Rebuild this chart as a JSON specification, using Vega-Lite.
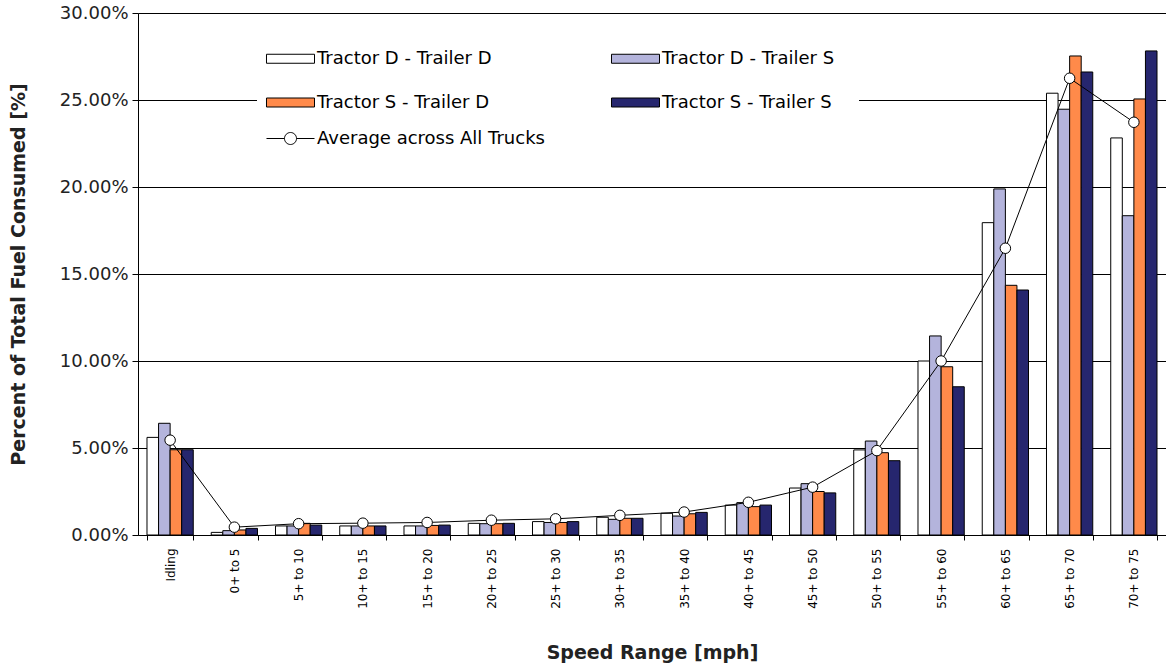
{
  "$schema": "https://vega.github.io/schema/vega-lite/v6.json",
  "width": 1028,
  "height": 522,
  "autosize": {"type": "none"},
  "padding": {"left": 138, "top": 13, "right": 0, "bottom": 132},
  "background": "white",
  "config": {"view": {"stroke": null}, "font": "DejaVu Sans"},
  "datasets": {
    "bars": [
      {"speed": "Idling", "series": "Tractor D - Trailer D", "value": 0.0561},
      {"speed": "Idling", "series": "Tractor D - Trailer S", "value": 0.0642},
      {"speed": "Idling", "series": "Tractor S - Trailer D", "value": 0.0490},
      {"speed": "Idling", "series": "Tractor S - Trailer S", "value": 0.0490},
      {"speed": "0+ to 5", "series": "Tractor D - Trailer D", "value": 0.0015},
      {"speed": "0+ to 5", "series": "Tractor D - Trailer S", "value": 0.0025},
      {"speed": "0+ to 5", "series": "Tractor S - Trailer D", "value": 0.0029},
      {"speed": "0+ to 5", "series": "Tractor S - Trailer S", "value": 0.0038},
      {"speed": "5+ to 10", "series": "Tractor D - Trailer D", "value": 0.0052},
      {"speed": "5+ to 10", "series": "Tractor D - Trailer S", "value": 0.0052},
      {"speed": "5+ to 10", "series": "Tractor S - Trailer D", "value": 0.0067},
      {"speed": "5+ to 10", "series": "Tractor S - Trailer S", "value": 0.0057},
      {"speed": "10+ to 15", "series": "Tractor D - Trailer D", "value": 0.0052},
      {"speed": "10+ to 15", "series": "Tractor D - Trailer S", "value": 0.0052},
      {"speed": "10+ to 15", "series": "Tractor S - Trailer D", "value": 0.0052},
      {"speed": "10+ to 15", "series": "Tractor S - Trailer S", "value": 0.0052},
      {"speed": "15+ to 20", "series": "Tractor D - Trailer D", "value": 0.0052},
      {"speed": "15+ to 20", "series": "Tractor D - Trailer S", "value": 0.0052},
      {"speed": "15+ to 20", "series": "Tractor S - Trailer D", "value": 0.0055},
      {"speed": "15+ to 20", "series": "Tractor S - Trailer S", "value": 0.0057},
      {"speed": "20+ to 25", "series": "Tractor D - Trailer D", "value": 0.0067},
      {"speed": "20+ to 25", "series": "Tractor D - Trailer S", "value": 0.0065},
      {"speed": "20+ to 25", "series": "Tractor S - Trailer D", "value": 0.0065},
      {"speed": "20+ to 25", "series": "Tractor S - Trailer S", "value": 0.0067},
      {"speed": "25+ to 30", "series": "Tractor D - Trailer D", "value": 0.0077},
      {"speed": "25+ to 30", "series": "Tractor D - Trailer S", "value": 0.0072},
      {"speed": "25+ to 30", "series": "Tractor S - Trailer D", "value": 0.0072},
      {"speed": "25+ to 30", "series": "Tractor S - Trailer S", "value": 0.0077},
      {"speed": "30+ to 35", "series": "Tractor D - Trailer D", "value": 0.0102},
      {"speed": "30+ to 35", "series": "Tractor D - Trailer S", "value": 0.0090},
      {"speed": "30+ to 35", "series": "Tractor S - Trailer D", "value": 0.0096},
      {"speed": "30+ to 35", "series": "Tractor S - Trailer S", "value": 0.0096},
      {"speed": "35+ to 40", "series": "Tractor D - Trailer D", "value": 0.0125},
      {"speed": "35+ to 40", "series": "Tractor D - Trailer S", "value": 0.0109},
      {"speed": "35+ to 40", "series": "Tractor S - Trailer D", "value": 0.0122},
      {"speed": "35+ to 40", "series": "Tractor S - Trailer S", "value": 0.0130},
      {"speed": "40+ to 45", "series": "Tractor D - Trailer D", "value": 0.0172},
      {"speed": "40+ to 45", "series": "Tractor D - Trailer S", "value": 0.0186},
      {"speed": "40+ to 45", "series": "Tractor S - Trailer D", "value": 0.0163},
      {"speed": "40+ to 45", "series": "Tractor S - Trailer S", "value": 0.0172},
      {"speed": "45+ to 50", "series": "Tractor D - Trailer D", "value": 0.0270},
      {"speed": "45+ to 50", "series": "Tractor D - Trailer S", "value": 0.0295},
      {"speed": "45+ to 50", "series": "Tractor S - Trailer D", "value": 0.0250},
      {"speed": "45+ to 50", "series": "Tractor S - Trailer S", "value": 0.0242},
      {"speed": "50+ to 55", "series": "Tractor D - Trailer D", "value": 0.0489},
      {"speed": "50+ to 55", "series": "Tractor D - Trailer S", "value": 0.0540},
      {"speed": "50+ to 55", "series": "Tractor S - Trailer D", "value": 0.0473},
      {"speed": "50+ to 55", "series": "Tractor S - Trailer S", "value": 0.0427},
      {"speed": "55+ to 60", "series": "Tractor D - Trailer D", "value": 0.1000},
      {"speed": "55+ to 60", "series": "Tractor D - Trailer S", "value": 0.1144},
      {"speed": "55+ to 60", "series": "Tractor S - Trailer D", "value": 0.0967},
      {"speed": "55+ to 60", "series": "Tractor S - Trailer S", "value": 0.0852},
      {"speed": "60+ to 65", "series": "Tractor D - Trailer D", "value": 0.1795},
      {"speed": "60+ to 65", "series": "Tractor D - Trailer S", "value": 0.1989},
      {"speed": "60+ to 65", "series": "Tractor S - Trailer D", "value": 0.1435},
      {"speed": "60+ to 65", "series": "Tractor S - Trailer S", "value": 0.1408},
      {"speed": "65+ to 70", "series": "Tractor D - Trailer D", "value": 0.2539},
      {"speed": "65+ to 70", "series": "Tractor D - Trailer S", "value": 0.2447},
      {"speed": "65+ to 70", "series": "Tractor S - Trailer D", "value": 0.2753},
      {"speed": "65+ to 70", "series": "Tractor S - Trailer S", "value": 0.2661},
      {"speed": "70+ to 75", "series": "Tractor D - Trailer D", "value": 0.2282},
      {"speed": "70+ to 75", "series": "Tractor D - Trailer S", "value": 0.1835},
      {"speed": "70+ to 75", "series": "Tractor S - Trailer D", "value": 0.2506},
      {"speed": "70+ to 75", "series": "Tractor S - Trailer S", "value": 0.2782}
    ],
    "avg": [
      {"speed": "Idling", "label": "Average across All Trucks", "value": 0.0545},
      {"speed": "0+ to 5", "label": "Average across All Trucks", "value": 0.0045},
      {"speed": "5+ to 10", "label": "Average across All Trucks", "value": 0.0065},
      {"speed": "10+ to 15", "label": "Average across All Trucks", "value": 0.0068},
      {"speed": "15+ to 20", "label": "Average across All Trucks", "value": 0.0072},
      {"speed": "20+ to 25", "label": "Average across All Trucks", "value": 0.0085},
      {"speed": "25+ to 30", "label": "Average across All Trucks", "value": 0.0093},
      {"speed": "30+ to 35", "label": "Average across All Trucks", "value": 0.0113},
      {"speed": "35+ to 40", "label": "Average across All Trucks", "value": 0.0132},
      {"speed": "40+ to 45", "label": "Average across All Trucks", "value": 0.0188},
      {"speed": "45+ to 50", "label": "Average across All Trucks", "value": 0.0275},
      {"speed": "50+ to 55", "label": "Average across All Trucks", "value": 0.0485},
      {"speed": "55+ to 60", "label": "Average across All Trucks", "value": 0.1000},
      {"speed": "60+ to 65", "label": "Average across All Trucks", "value": 0.1648},
      {"speed": "65+ to 70", "label": "Average across All Trucks", "value": 0.2625},
      {"speed": "70+ to 75", "label": "Average across All Trucks", "value": 0.2372}
    ]
  },
  "layer": [
    {
      "data": {"name": "bars"},
      "mark": {"type": "bar", "stroke": "black", "strokeWidth": 1},
      "encoding": {
        "x": {
          "field": "speed", "type": "nominal",
          "sort": ["Idling", "0+ to 5", "5+ to 10", "10+ to 15", "15+ to 20", "20+ to 25", "25+ to 30", "30+ to 35", "35+ to 40", "40+ to 45", "45+ to 50", "50+ to 55", "55+ to 60", "60+ to 65", "65+ to 70", "70+ to 75"],
          "scale": {"paddingInner": 0.28, "paddingOuter": 0.14},
          "axis": {
            "title": "Speed Range [mph]",
            "labelAngle": 270,
            "labelFont": "DejaVu Sans",
            "labelFontSize": 12,
            "labelColor": "black",
            "labelPadding": 8,
            "tickBand": "extent",
            "tickSize": 5,
            "tickColor": "black",
            "domainColor": "black",
            "grid": false,
            "titleFont": "DejaVu Sans",
            "titleFontSize": 19,
            "titleFontWeight": "bold",
            "titleColor": "#222222",
            "titleY": 117,
            "titleBaseline": "middle"
          }
        },
        "xOffset": {
          "field": "series", "type": "nominal",
          "sort": ["Tractor D - Trailer D", "Tractor D - Trailer S", "Tractor S - Trailer D", "Tractor S - Trailer S"],
          "scale": {"paddingInner": 0, "paddingOuter": 0}
        },
        "y": {
          "field": "value", "type": "quantitative",
          "scale": {"domain": [0, 0.3]},
          "axis": {
            "title": "Percent of Total Fuel Consumed [%]",
            "format": ".2%",
            "values": [0, 0.05, 0.1, 0.15, 0.2, 0.25, 0.3],
            "grid": true,
            "gridColor": "black",
            "gridOpacity": 1,
            "gridWidth": 1,
            "domainColor": "black",
            "tickColor": "black",
            "tickSize": 6,
            "labelFont": "DejaVu Sans",
            "labelFontSize": 18,
            "labelColor": "#222222",
            "labelPadding": 4,
            "titleFont": "DejaVu Sans",
            "titleFontSize": 19,
            "titleFontWeight": "bold",
            "titleColor": "#222222",
            "titleX": -120,
            "titleY": 261,
            "titleAngle": 270,
            "titleAlign": "center",
            "titleBaseline": "middle"
          }
        },
        "fill": {
          "field": "series", "type": "nominal",
          "scale": {
            "domain": ["Tractor D - Trailer D", "Tractor D - Trailer S", "Tractor S - Trailer D", "Tractor S - Trailer S"],
            "range": ["#ffffff", "#b4b4dc", "#ff8a4a", "#26266e"]
          },
          "legend": {
            "title": null,
            "orient": "none",
            "direction": "horizontal",
            "legendX": 119,
            "legendY": 12,
            "columns": 2,
            "padding": 24,
            "fillColor": "white",
            "strokeColor": null,
            "rowPadding": 25,
            "columnPadding": 117,
            "labelFont": "DejaVu Sans",
            "labelFontSize": 18,
            "labelColor": "black",
            "labelOffset": 17,
            "labelLimit": 400,
            "symbolType": "M-2.667,-0.5H2.667V0.5H-2.667Z",
            "symbolSize": 324,
            "symbolStrokeColor": "black",
            "symbolStrokeWidth": 1
          }
        }
      }
    },
    {
      "data": {"name": "avg"},
      "mark": {"type": "line", "strokeWidth": 1},
      "encoding": {
        "x": {"field": "speed", "type": "nominal", "sort": ["Idling", "0+ to 5", "5+ to 10", "10+ to 15", "15+ to 20", "20+ to 25", "25+ to 30", "30+ to 35", "35+ to 40", "40+ to 45", "45+ to 50", "50+ to 55", "55+ to 60", "60+ to 65", "65+ to 70", "70+ to 75"]},
        "y": {"field": "value", "type": "quantitative"},
        "stroke": {
          "field": "label", "type": "nominal",
          "scale": {"domain": ["Average across All Trucks"], "range": ["black"]},
          "legend": {
            "title": null,
            "orient": "none",
            "legendX": 143,
            "legendY": 116,
            "padding": 0,
            "labelFont": "DejaVu Sans",
            "labelFontSize": 18,
            "labelColor": "black",
            "labelOffset": 17,
            "labelLimit": 400,
            "symbolType": "M-2.667,0H-0.667M0.667,0H2.667M-0.667,0A0.667,0.667 0 1 1 0.667,0A0.667,0.667 0 1 1 -0.667,0Z",
            "symbolSize": 324,
            "symbolStrokeWidth": 1,
            "symbolFillColor": "white"
          }
        }
      }
    },
    {
      "data": {"name": "avg"},
      "mark": {"type": "point", "shape": "circle", "filled": true, "fill": "white", "stroke": "black", "strokeWidth": 1, "size": 110, "opacity": 1},
      "encoding": {
        "x": {"field": "speed", "type": "nominal", "sort": ["Idling", "0+ to 5", "5+ to 10", "10+ to 15", "15+ to 20", "20+ to 25", "25+ to 30", "30+ to 35", "35+ to 40", "40+ to 45", "45+ to 50", "50+ to 55", "55+ to 60", "60+ to 65", "65+ to 70", "70+ to 75"]},
        "y": {"field": "value", "type": "quantitative"}
      }
    }
  ]
}
